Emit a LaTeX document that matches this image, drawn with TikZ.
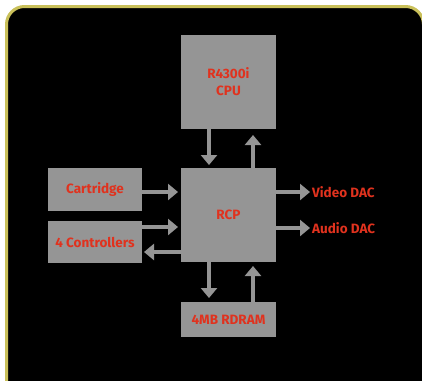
\documentclass[tikz,border=0pt]{standalone}
\usepackage{fontspec}
\setmainfont{Fira Sans}
\usetikzlibrary{arrows.meta}
\definecolor{boxgray}{HTML}{959595}
\definecolor{txtred}{HTML}{E0321E}
\definecolor{frameol}{HTML}{C9C05A}
\tikzset{
  blk/.style={fill=boxgray, draw=none, inner sep=0pt, text=txtred, font=\bfseries\fontsize{13.5}{17}\selectfont, align=center},
  conn/.style={draw=boxgray, line width=4pt, -{Triangle[width=16pt,length=10pt]}},
  lbl/.style={text=txtred, font=\bfseries\fontsize{13.5}{17}\selectfont, inner sep=0pt, anchor=west}
}
\begin{document}
\begin{tikzpicture}[x=1pt,y=-1pt]
\useasboundingbox (0,0) rectangle (422,380);
\fill[white] (0,0) rectangle (422,380);
\begin{scope}
\clip (0,0) rectangle (422,380);
\draw[frameol, line width=3pt, fill=black, rounded corners=18pt] (6.5,6.5) rectangle (423.5,400);
\end{scope}
% blocks
\node[blk, minimum width=95pt, minimum height=94pt] (cpu) at (228.5,82) {R4300i\\CPU};
\node[blk, minimum width=95pt, minimum height=94pt] (rcp) at (228.5,215) {RCP};
\node[blk, minimum width=94pt, minimum height=43pt] (cart) at (95,189.5) {Cartridge};
\node[blk, minimum width=94pt, minimum height=42pt] (ctrl) at (95,242) {4 Controllers};
\node[blk, minimum width=95pt, minimum height=35pt] (ram) at (228.5,319.5) {4MB RDRAM};
% labels
\coordinate (vtip) at (310,192);
\coordinate (atip) at (310,228);
\node[lbl] (vdac) at (312,192) {Video DAC};
\node[lbl] (adac) at (312,228) {Audio DAC};
% connectors
\draw[conn] (cpu.south -| 209,0) -- (209,165);
\draw[conn] (rcp.north -| 253,0) -- (253,135);
\draw[conn] (cart.east |- 0,192) -- (178,192);
\draw[conn] (ctrl.east |- 0,227) -- (178,227);
\draw[conn] (rcp.west |- 0,252) -- (144,252);
\draw[conn] (rcp.east |- 0,192) -- (vtip);
\draw[conn] (rcp.east |- 0,228) -- (atip);
\draw[conn] (rcp.south -| 209,0) -- (209,298);
\draw[conn] (ram.north -| 253,0) -- (253,266);
\end{tikzpicture}
\end{document}
